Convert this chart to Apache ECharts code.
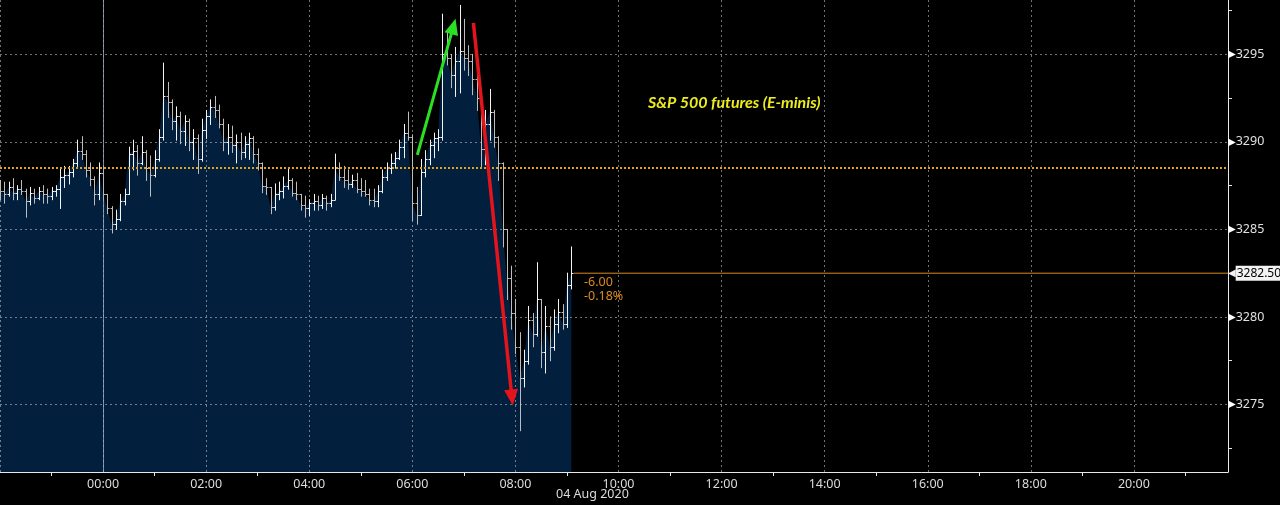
<!DOCTYPE html>
<html><head><meta charset="utf-8">
<script src="https://cdn.jsdelivr.net/npm/echarts@6/dist/echarts.min.js"></script>
<style>html,body{margin:0;padding:0;background:#000}#c{width:1280px;height:505px}</style>
</head><body><div id="c"></div>
<script>
// ---- data (5-minute OHLC bars, from 22:00 on 03 Aug 2020) ----
const START_MIN = -120;  // minutes relative to 00:00 04 Aug
const STEP_MIN = 5;
const open = [
3287.3,3287.2,3287.0,3287.4,3287.1,3287.3,3287.2,3286.6,3287.1,3286.8,
3287.2,3287.0,3286.9,3287.2,3287.3,3288.0,3288.1,3288.3,3288.8,3289.5,
3289.3,3288.4,3287.9,3287.0,3288.2,3287.0,3286.2,3285.3,3285.6,3286.6,
3287.0,3289.3,3289.5,3288.8,3289.4,3288.5,3288.1,3289.0,3290.3,3292.6,
3292.3,3291.2,3291.5,3290.6,3291.2,3290.0,3290.2,3289.0,3290.7,3291.5,
3292.0,3291.8,3291.0,3290.0,3290.3,3289.8,3290.0,3289.4,3289.9,3290.2,
3289.3,3288.8,3287.5,3287.4,3286.3,3287.0,3287.2,3287.5,3287.8,3287.1,
3287.0,3286.4,3286.2,3286.5,3286.6,3286.4,3286.8,3286.5,3286.7,3288.5,
3288.0,3287.8,3287.6,3287.8,3287.3,3287.2,3287.0,3286.7,3286.6,3287.2,
3288.0,3288.5,3288.8,3289.1,3289.7,3290.5,3290.3,3286.5,3285.8,3288.3,
3289.0,3289.8,3290.2,3290.3,3295.0,3294.8,3293.8,3294.6,3295.2,3294.8,
3294.6,3293.6,3292.5,3289.6,3291.0,3291.7,3290.3,3288.8,3285.0,3282.2,
3280.2,3278.3,3276.5,3277.5,3279.8,3279.0,3281.0,3278.0,3279.5,3278.3,
3279.6,3280.3,3279.6,3281.8];
const high = [
3287.8,3287.7,3287.7,3287.9,3287.5,3287.8,3287.3,3287.4,3287.3,3287.4,
3287.5,3287.3,3287.4,3287.5,3288.5,3288.6,3288.6,3289.0,3290.1,3290.3,
3289.5,3288.8,3288.0,3288.8,3288.6,3287.0,3286.3,3286.1,3287.0,3287.3,
3289.7,3290.1,3289.8,3290.3,3289.5,3289.2,3289.5,3290.7,3294.5,3293.4,
3292.4,3292.0,3291.7,3291.5,3291.3,3290.7,3290.4,3291.3,3291.8,3292.4,
3292.6,3292.1,3291.3,3291.0,3290.9,3290.4,3290.5,3290.3,3290.5,3290.3,
3289.6,3288.8,3287.9,3287.4,3287.6,3287.7,3288.0,3288.5,3287.9,3287.7,
3287.0,3286.9,3286.7,3287.0,3286.9,3287.0,3286.9,3287.0,3289.3,3288.8,
3288.6,3288.4,3288.1,3288.2,3287.9,3287.8,3287.3,3287.3,3287.5,3288.4,
3288.8,3289.3,3289.4,3290.1,3291.0,3291.7,3290.4,3287.4,3289.0,3289.5,
3290.1,3290.5,3290.7,3297.3,3296.4,3295.0,3295.4,3297.8,3297.0,3295.5,
3295.0,3294.4,3292.6,3291.8,3293.0,3291.8,3290.3,3288.8,3285.0,3282.9,
3281.0,3279.1,3278.1,3280.6,3280.2,3283.1,3281.0,3280.6,3280.0,3280.4,
3281.0,3280.7,3282.5,3284.0];
const low = [
3286.7,3286.5,3286.9,3286.7,3286.7,3287.0,3285.7,3286.4,3286.5,3286.7,
3286.5,3286.5,3286.7,3286.9,3286.2,3287.4,3287.6,3288.0,3288.6,3289.0,
3288.0,3287.5,3286.4,3286.7,3286.7,3285.9,3284.8,3285.0,3285.5,3286.4,
3287.0,3288.4,3288.1,3288.7,3287.8,3286.9,3288.0,3288.9,3290.1,3291.4,
3290.7,3290.1,3289.9,3289.8,3289.5,3289.0,3288.2,3288.9,3290.2,3291.0,
3291.4,3290.8,3289.5,3289.3,3289.4,3288.8,3289.0,3289.1,3289.0,3288.8,
3288.4,3287.1,3287.0,3285.9,3286.1,3286.7,3286.8,3287.3,3286.9,3286.7,
3286.1,3285.7,3285.8,3286.1,3286.1,3286.2,3286.1,3286.3,3286.7,3287.8,
3287.4,3287.3,3287.4,3287.1,3286.9,3286.9,3286.4,3286.3,3286.3,3287.1,
3287.8,3288.2,3288.5,3289.0,3289.1,3290.1,3285.5,3285.3,3285.8,3288.0,
3288.7,3289.1,3289.5,3290.1,3294.4,3293.1,3292.6,3292.8,3294.1,3293.8,
3292.7,3291.8,3288.6,3288.7,3290.1,3289.7,3287.8,3284.0,3281.0,3279.3,
3277.9,3273.5,3276.0,3277.3,3278.3,3278.9,3277.1,3276.8,3277.5,3278.1,
3279.1,3279.3,3279.4,3281.6];
const close = [
3287.2,3287.0,3287.4,3287.1,3287.3,3287.2,3286.6,3287.1,3286.8,3287.2,
3287.0,3286.9,3287.2,3287.3,3288.0,3288.1,3288.3,3288.8,3289.5,3289.3,
3288.4,3287.9,3287.0,3288.2,3287.0,3286.2,3285.3,3285.6,3286.6,3287.0,
3289.3,3289.5,3288.8,3289.4,3288.5,3288.1,3289.0,3290.3,3292.6,3292.3,
3291.2,3291.5,3290.6,3291.2,3290.0,3290.2,3289.0,3290.7,3291.5,3292.0,
3291.8,3291.0,3290.0,3290.3,3289.8,3290.0,3289.4,3289.9,3290.2,3289.3,
3288.8,3287.5,3287.4,3286.3,3287.0,3287.2,3287.5,3287.8,3287.1,3287.0,
3286.4,3286.2,3286.5,3286.6,3286.4,3286.8,3286.5,3286.7,3288.5,3288.0,
3287.8,3287.6,3287.8,3287.3,3287.2,3287.0,3286.7,3286.6,3287.2,3288.0,
3288.5,3288.8,3289.1,3289.7,3290.5,3290.3,3286.5,3285.8,3288.3,3289.0,
3289.8,3290.2,3290.3,3295.0,3294.8,3293.8,3294.6,3295.2,3294.8,3294.6,
3293.6,3292.5,3289.6,3291.0,3291.7,3290.3,3288.8,3285.0,3282.2,3280.2,
3278.3,3276.5,3277.5,3279.8,3279.0,3281.0,3278.0,3279.5,3278.3,3279.6,
3280.3,3279.6,3281.8,3282.5];
const yLabelValues = [3275, 3280, 3285, 3290, 3295];
const yMinorTicks = [3272.5, 3277.5, 3282.5, 3287.5, 3292.5, 3297.5];
const PREV_CLOSE = 3288.5;
const TITLE = 'S&P 500 futures (E-minis)';
const DATE_LABEL = '04 Aug 2020';
// annotation arrows [minutes, price]
const greenArrow = [[365.8, 3289.26], [407.8, 3296.6]];
const redArrow = [[431.1, 3296.8], [475.9, 3275.4]];

// ---- derived ----
const times = open.map((_, i) => START_MIN + i * STEP_MIN);
const LAST = close[close.length - 1];
const LAST_T = times[times.length - 1];
const CHG = LAST - PREV_CLOSE;
const CHG_PCT = CHG / PREV_CLOSE * 100;
const X_MIN = -120, X_MAX = 1309.5;
const Y_MIN = 3271.14, Y_MAX = 3298.11;

function fmtTime(v) {
  const m = ((Math.round(v) % 1440) + 1440) % 1440;
  const h = Math.floor(m / 60), mm = m % 60;
  return String(h).padStart(2, '0') + ':' + String(mm).padStart(2, '0');
}

const FONT = 'Noto Sans';
const gridLine = { color: 'rgba(205,205,205,0.55)', type: [2, 3], width: 1 };

const chart = echarts.init(document.getElementById('c'), null, { renderer: 'canvas' });
chart.setOption({
  backgroundColor: '#000',
  animation: false,
  grid: { left: 0, right: 52, top: 0, bottom: 33 },
  xAxis: {
    type: 'value', min: X_MIN, max: X_MAX, interval: 120, z: 3,
    axisLine: { show: true, onZero: false, lineStyle: { color: '#e8e8e8', width: 1 } },
    axisTick: { show: false },
    minorTick: { show: true, splitNumber: 2, length: 4, lineStyle: { color: '#e8e8e8' } },
    minorSplitLine: { show: false },
    axisLabel: { showMinLabel: false, showMaxLabel: false, formatter: fmtTime,
      color: '#dcdcdc', fontSize: 12.5, fontFamily: FONT, margin: 6 },
    splitLine: { show: true, lineStyle: gridLine }
  },
  yAxis: {
    type: 'value', position: 'right', min: Y_MIN, max: Y_MAX, z: 3,
    axisLine: { show: true, onZero: false, lineStyle: { color: '#e8e8e8', width: 1 } },
    axisTick: { show: true, customValues: yMinorTicks, length: 4, lineStyle: { color: '#e8e8e8' } },
    axisLabel: { customValues: yLabelValues, margin: 0,
      formatter: v => '{t|\u25B6}{v|' + v + '}',
      rich: { t: { fontSize: 10, color: '#ffffff', fontFamily: 'DejaVu Sans' },
              v: { fontSize: 12.5, color: '#e0e0e0', fontFamily: FONT } } },
    splitLine: { show: false }
  },
  series: [
    {
      type: 'line', z: 2, silent: true, showSymbol: false, symbol: 'none',
      data: times.map((t, i) => [t, close[i]]),
      lineStyle: { width: 0, opacity: 0 },
      areaStyle: { color: '#031f3e', opacity: 1 },
      markLine: {
        silent: true, animation: false, symbol: 'none', label: { show: false },
        data: [
          ...yLabelValues.map(v => ({ yAxis: v, lineStyle: gridLine })),
          { xAxis: 0, lineStyle: { color: 'rgba(165,180,200,0.75)', type: 'solid', width: 1 } },
          { yAxis: PREV_CLOSE, lineStyle: { color: '#e0a21c', type: [2, 2], width: 2 } },
          [
            { coord: greenArrow[0], symbol: 'none',
              lineStyle: { color: '#2be024', type: 'solid', width: 3 } },
            { coord: greenArrow[1], symbol: 'triangle', symbolSize: [14, 16],
              lineStyle: { color: '#2be024', type: 'solid', width: 3 } }
          ],
          [
            { coord: redArrow[0], symbol: 'none',
              lineStyle: { color: '#e4141c', type: 'solid', width: 3.5 } },
            { coord: redArrow[1], symbol: 'triangle', symbolSize: [14, 16],
              lineStyle: { color: '#e4141c', type: 'solid', width: 3.5 } }
          ]
        ]
      }
    },
    {
      type: 'custom', z: 4, silent: true,
      data: times.map((t, i) => [t, open[i], high[i], low[i], close[i]]),
      encode: { x: 0, y: [1, 2, 3, 4] },
      renderItem: function (params, api) {
        const t = api.value(0), o = api.value(1), h = api.value(2), l = api.value(3), c = api.value(4);
        const pH = api.coord([t, h]), pL = api.coord([t, l]), pO = api.coord([t, o]), pC = api.coord([t, c]);
        const x = Math.round(pH[0]) + 0.5;
        const col = c >= o ? '#f4f4f4' : '#bdbdbd';
        const st = { stroke: col, lineWidth: 1 };
        return { type: 'group', children: [
          { type: 'line', shape: { x1: x, y1: pH[1] - 0.5, x2: x, y2: pL[1] + 0.5 }, style: st },
          { type: 'line', shape: { x1: x - 2, y1: Math.round(pO[1]) + 0.5, x2: x, y2: Math.round(pO[1]) + 0.5 }, style: st },
          { type: 'line', shape: { x1: x, y1: Math.round(pC[1]) + 0.5, x2: x + 2, y2: Math.round(pC[1]) + 0.5 }, style: st }
        ] };
      }
    },
    {
      type: 'line', z: 3, silent: true, showSymbol: false, symbol: 'none',
      data: [[LAST_T + 3, LAST], [X_MAX, LAST]],
      lineStyle: { color: '#d9891c', width: 1 },
      itemStyle: { color: '#d9891c' },
      endLabel: { show: true, distance: 0,
        formatter: () => '{a|\u25C0}{b|' + LAST.toFixed(2) + '}',
        rich: { a: { color: '#f2f2f2', fontSize: 10, fontFamily: 'DejaVu Sans', padding: [0, 0, 0, 0] },
                b: { color: '#000', backgroundColor: '#f2f2f2', padding: [2, 2, 1, 1],
                     fontSize: 12, fontFamily: FONT } } }
    }
  ],
  graphic: [
    { type: 'text', left: 648, top: 95, z: 10,
      style: { text: TITLE, fill: '#ecec1e', font: 'italic bold 16px Lato',
        shadowColor: 'rgba(0,0,0,0.9)', shadowBlur: 3 } },
    { type: 'text', left: 584, top: 276, z: 10,
      style: { text: CHG.toFixed(2), fill: '#e08a1e', font: '12.5px "Noto Sans"' } },
    { type: 'text', left: 584, top: 290, z: 10,
      style: { text: CHG_PCT.toFixed(2) + '%', fill: '#e08a1e', font: '12.5px "Noto Sans"' } },
    { type: 'text', left: 556, top: 488, z: 10,
      style: { text: DATE_LABEL, fill: '#dcdcdc', font: '12.5px "Noto Sans"' } }
  ]
});
</script></body></html>
